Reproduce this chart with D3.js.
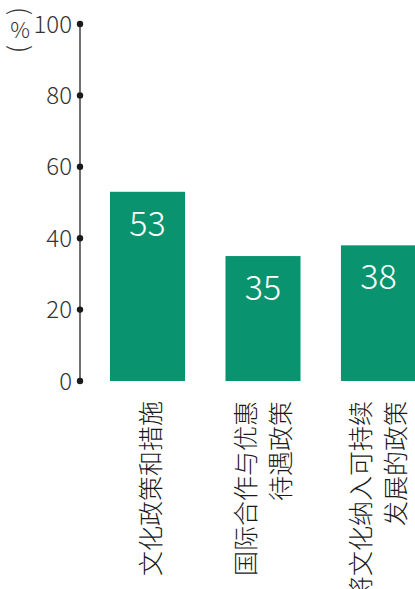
<!DOCTYPE html>
<meta charset="utf-8">
<html>
<head>
<script src="https://d3js.org/d3.v7.min.js"></script>
<style>
  body { margin: 0; background: #fff; }
  svg { display: block; font-family: "Noto Sans CJK SC", "Liberation Sans", sans-serif; }
</style>
</head>
<body>
<div id="chart"></div>
<script>
/* chart data */
var categories = ["文化政策和措施", "国际合作与优惠待遇政策", "将文化纳入可持续发展的政策"];
var labelLines = [["文化政策和措施"], ["国际合作与优惠", "待遇政策"], ["将文化纳入可持续", "发展的政策"]];
var values = [53, 35, 38];
var yTicks = [0, 20, 40, 60, 80, 100];

var totalWidth = 415, totalHeight = 589;
var axisX = 80, y0 = 381, y100 = 24;
var barColor = "#0a936f";

var svg = d3.select("#chart").append("svg")
    .attr("width", totalWidth)
    .attr("height", totalHeight);

var y = d3.scaleLinear().domain([0, 100]).range([y0, y100]);
var x = d3.scaleBand().domain(categories).range([110, 416]).paddingInner(0.35).paddingOuter(0);

/* axis */
svg.append("line")
    .attr("x1", axisX).attr("x2", axisX)
    .attr("y1", y(100)).attr("y2", y(0))
    .attr("stroke", "#333").attr("stroke-width", 1.4);

svg.selectAll(".tick-dot")
    .data(yTicks)
    .enter().append("circle")
    .attr("cx", axisX)
    .attr("cy", function(d){ return y(d); })
    .attr("r", 3.2)
    .attr("fill", "#1a1a1a");

svg.selectAll(".tick-label")
    .data(yTicks)
    .enter().append("text")
    .attr("x", axisX - 8)
    .attr("y", function(d){ return y(d); })
    .attr("dy", "0.36em")
    .attr("text-anchor", "end")
    .attr("font-size", 24)
    .attr("font-weight", 300)
    .attr("fill", "#333")
    .text(function(d){ return d; });

/* unit label (%) with sideways brackets */
var unit = svg.append("g").attr("transform", "translate(20,30)");
unit.append("text")
    .attr("text-anchor", "middle").attr("dy", "0.35em")
    .attr("font-size", 22).attr("font-weight", 300).attr("fill", "#333")
    .text("%");
unit.append("text")
    .attr("transform", "translate(0,-19) rotate(90)")
    .attr("text-anchor", "middle").attr("dy", "0.35em")
    .attr("font-size", 26).attr("font-weight", 300).attr("fill", "#333")
    .text("(");
unit.append("text")
    .attr("transform", "translate(0,19) rotate(90)")
    .attr("text-anchor", "middle").attr("dy", "0.35em")
    .attr("font-size", 26).attr("font-weight", 300).attr("fill", "#333")
    .text(")");

/* bars */
svg.selectAll(".bar")
    .data(values)
    .enter().append("rect")
    .attr("x", function(d, i){ return x(categories[i]); })
    .attr("y", function(d){ return y(d); })
    .attr("width", x.bandwidth())
    .attr("height", function(d){ return y(0) - y(d); })
    .attr("fill", barColor);

/* value labels */
svg.selectAll(".val")
    .data(values)
    .enter().append("text")
    .attr("x", function(d, i){ return x(categories[i]) + x.bandwidth() / 2; })
    .attr("y", function(d){ return y(d) + 44; })
    .attr("text-anchor", "middle")
    .attr("font-size", 34)
    .attr("font-weight", 300)
    .attr("fill", "#fff")
    .text(function(d){ return d; });

/* rotated category labels */
labelLines.forEach(function(lines, i){
    var cx = x(categories[i]) + x.bandwidth() / 2 + (lines.length == 1 ? 3 : 0);
    var n = lines.length;
    var g = svg.append("g")
        .attr("transform", "translate(" + cx + ",401) rotate(-90)");
    lines.forEach(function(line, j){
        g.append("text")
            .attr("x", 0)
            .attr("y", (j - (n - 1) / 2) * 35)
            .attr("dy", "0.36em")
            .attr("text-anchor", "end")
            .attr("font-size", 25)
            .attr("font-weight", 300)
            .attr("fill", "#1a1a1a")
            .text(line);
    });
});
</script>
</body>
</html>
